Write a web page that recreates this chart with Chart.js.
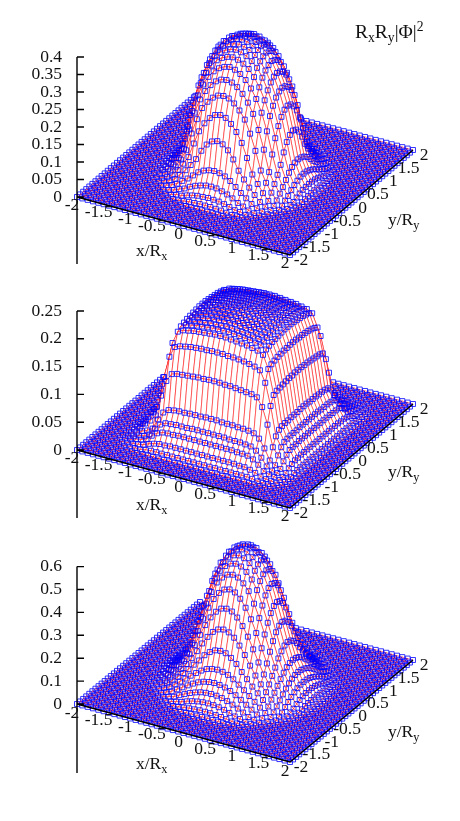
<!DOCTYPE html>
<html>
<head>
<meta charset="utf-8">
<title>RxRy|Phi|^2</title>
<script src="https://cdn.jsdelivr.net/npm/chart.js@4"></script>
<style>
  html, body { margin: 0; padding: 0; background: #fff; }
  #page { position: relative; width: 460px; height: 821px; overflow: hidden; }
  canvas { position: absolute; left: 0; }
</style>
</head>
<body>
<div id="page">
  <canvas id="top" width="460" height="280" style="top:0"></canvas>
  <canvas id="middle" width="460" height="255" style="top:280px"></canvas>
  <canvas id="bottom" width="460" height="286" style="top:535px"></canvas>
</div>
<script>
const gridX = [-2,-1.9,-1.8,-1.7,-1.6,-1.5,-1.4,-1.3,-1.2,-1.1,-1,-0.9,-0.8,-0.7,-0.6,-0.5,-0.4,-0.3,-0.2,-0.1,0,
  0.1,0.2,0.3,0.4,0.5,0.6,0.7,0.8,0.9,1,1.1,1.2,1.3,1.4,1.5,1.6,1.7,1.8,1.9,2];
const gridY = [-2,-1.9,-1.8,-1.7,-1.6,-1.5,-1.4,-1.3,-1.2,-1.1,-1,-0.9,-0.8,-0.7,-0.6,-0.5,-0.4,-0.3,-0.2,-0.1,0,
  0.1,0.2,0.3,0.4,0.5,0.6,0.7,0.8,0.9,1,1.1,1.2,1.3,1.4,1.5,1.6,1.7,1.8,1.9,2];

const xTicks = [-2,-1.5,-1,-0.5,0,0.5,1,1.5,2];
const yTicks = [-2,-1.5,-1,-0.5,0,0.5,1,1.5,2];
const zTicksTop = [0,0.05,0.1,0.15,0.2,0.25,0.3,0.35,0.4];
const zTicksMiddle = [0,0.05,0.1,0.15,0.2,0.25];
const zTicksBottom = [0,0.1,0.2,0.3,0.4,0.5,0.6];

// for 0 <= x,y <= 1.5 in steps of 0.1, the surface mirrors
// around both axes and is flat zero further out
const zTop = [
  [.392,.390,.384,.376,.362,.342,.312,.274,.227,.160,.082,.045,.020,.006,0,0],
  [.390,.388,.381,.373,.359,.338,.309,.271,.223,.155,.080,.044,.019,.006,0,0],
  [.384,.381,.376,.366,.352,.330,.300,.261,.210,.142,.075,.040,.018,.005,0,0],
  [.376,.373,.366,.356,.341,.317,.285,.245,.191,.120,.066,.035,.015,.004,0,0],
  [.362,.359,.352,.341,.322,.297,.264,.223,.164,.092,.053,.028,.011,.002,0,0],
  [.342,.338,.330,.317,.297,.271,.236,.187,.125,.071,.040,.019,.006,0,0,0],
  [.312,.309,.300,.285,.264,.236,.194,.142,.082,.052,.029,.013,.005,0,0,0],
  [.274,.271,.261,.245,.223,.187,.142,.090,.059,.035,.017,.006,.001,0,0,0],
  [.227,.223,.210,.191,.164,.125,.082,.059,.037,.019,.009,.002,0,0,0,0],
  [.160,.155,.142,.120,.092,.071,.052,.035,.019,.010,.004,0,0,0,0,0],
  [.082,.080,.075,.066,.053,.040,.029,.017,.009,.004,0,0,0,0,0,0],
  [.045,.044,.040,.035,.028,.019,.013,.006,.002,0,0,0,0,0,0,0],
  [.020,.019,.018,.015,.011,.006,.005,.001,0,0,0,0,0,0,0,0],
  [.006,.006,.005,.004,.002,0,0,0,0,0,0,0,0,0,0,0],
  [0,0,0,0,0,0,0,0,0,0,0,0,0,0,0,0],
  [0,0,0,0,0,0,0,0,0,0,0,0,0,0,0,0]
];
const zMiddle = [
  [.215,.215,.214,.213,.212,.211,.209,.206,.201,.176,.129,.066,.045,.032,.015,.004],
  [.215,.215,.214,.213,.212,.211,.208,.206,.201,.176,.129,.066,.045,.032,.015,.004],
  [.214,.214,.213,.212,.211,.210,.207,.205,.200,.175,.128,.065,.045,.032,.015,.004],
  [.213,.213,.212,.211,.210,.209,.207,.204,.199,.175,.128,.065,.045,.032,.015,.004],
  [.212,.212,.211,.210,.209,.208,.205,.203,.198,.174,.127,.065,.044,.032,.015,.004],
  [.211,.211,.210,.209,.208,.206,.204,.202,.197,.173,.126,.064,.044,.032,.015,.004],
  [.209,.208,.207,.207,.205,.204,.202,.200,.195,.171,.125,.064,.044,.031,.015,.004],
  [.206,.206,.205,.204,.203,.202,.200,.198,.193,.169,.124,.063,.043,.031,.014,.004],
  [.201,.201,.200,.199,.198,.197,.195,.193,.188,.165,.121,.061,.042,.030,.014,.004],
  [.176,.176,.175,.175,.174,.173,.171,.169,.165,.145,.106,.054,.037,.026,.012,.004],
  [.129,.129,.128,.128,.127,.126,.125,.124,.121,.106,.077,.039,.027,.019,.009,.003],
  [.066,.066,.065,.065,.065,.064,.064,.063,.061,.054,.039,.020,.014,.010,.005,.001],
  [.045,.045,.045,.045,.044,.044,.044,.043,.042,.037,.027,.014,.009,.007,.003,.001],
  [.032,.032,.032,.032,.032,.032,.031,.031,.030,.026,.019,.010,.007,.005,.002,.001],
  [.015,.015,.015,.015,.015,.015,.015,.014,.014,.012,.009,.005,.003,.002,.001,0],
  [.004,.004,.004,.004,.004,.004,.004,.004,.004,.004,.003,.001,.001,.001,0,0]
];
const zBottom = [
  [.595,.590,.575,.550,.513,.460,.387,.307,.225,.154,.107,.070,.040,.015,.003,0],
  [.590,.584,.569,.544,.507,.453,.381,.301,.221,.151,.105,.069,.039,.015,.003,0],
  [.575,.569,.554,.527,.488,.432,.361,.284,.207,.144,.100,.065,.036,.013,.003,0],
  [.550,.544,.527,.500,.460,.399,.330,.256,.187,.131,.091,.058,.031,.011,.002,0],
  [.513,.507,.488,.460,.412,.355,.290,.221,.158,.114,.079,.049,.024,.008,.001,0],
  [.460,.453,.432,.399,.355,.301,.241,.181,.133,.096,.065,.038,.015,.004,0,0],
  [.387,.381,.361,.330,.290,.241,.190,.144,.107,.077,.050,.027,.010,.002,0,0],
  [.307,.301,.284,.256,.221,.181,.144,.112,.084,.058,.035,.014,.004,.001,0,0],
  [.225,.221,.207,.187,.158,.133,.107,.084,.061,.039,.020,.008,.002,0,0,0],
  [.154,.151,.144,.131,.114,.096,.077,.058,.039,.022,.010,.002,0,0,0,0],
  [.107,.105,.100,.091,.079,.065,.050,.035,.020,.010,.002,0,0,0,0,0],
  [.070,.069,.065,.058,.049,.038,.027,.014,.008,.002,0,0,0,0,0,0],
  [.040,.039,.036,.031,.024,.015,.010,.004,.002,0,0,0,0,0,0,0],
  [.015,.015,.013,.011,.008,.004,.002,.001,0,0,0,0,0,0,0,0],
  [.003,.003,.003,.002,.001,0,0,0,0,0,0,0,0,0,0,0],
  [0,0,0,0,0,0,0,0,0,0,0,0,0,0,0,0]
];

// view of the box, in pixels per unit
const axisLeft = 77;
const pxPerX = 53.25;
const yShiftPerY = 30.75;
const xDropPerX = 14.5;
const font = '"Liberation Serif", "Times New Roman", serif';
const fontSize = 17.5;

const panels = [
  { id: "top", table: zTop, zTicks: zTicksTop, height: 280, baseY: 197, pxPerZ: 350, yRise: 26.25,
    axisDrop: 67, xLabelDrop: 8, xTitleDrop: 59, yTitleDrop: 28, title: true },
  { id: "middle", table: zMiddle, zTicks: zTicksMiddle, height: 255, baseY: 170, pxPerZ: 556, yRise: 26,
    axisDrop: 68, xLabelDrop: 8, xTitleDrop: 60, yTitleDrop: 27 },
  { id: "bottom", table: zBottom, zTicks: zTicksBottom, height: 286, baseY: 169, pxPerZ: 229, yRise: 25.5,
    axisDrop: 69, xLabelDrop: 9, xTitleDrop: 65, yTitleDrop: 33 }
];

function zAt(table, ix, iy) {
  const i = Math.abs(ix - 20);
  const j = Math.abs(iy - 20);
  return i < 16 && j < 16 ? table[i][j] : 0;
}

// scale values of a surface point: x scale holds the sheared x, y scale holds z plus the floor tilt
function project(panel, x, y, z) {
  return {
    x: x + (y + 2) * yShiftPerY / pxPerX,
    y: z + ((y + 2) * panel.yRise - (x + 2) * xDropPerX) / panel.pxPerZ
  };
}

function insideQuad(p, quad) {
  let sign = 0;
  for (let k = 0; k < 4; k++) {
    const a = quad[k];
    const b = quad[(k + 1) % 4];
    const cross = (b.x - a.x) * (p.y - a.y) - (b.y - a.y) * (p.x - a.x);
    if (cross !== 0) {
      if (sign !== 0 && Math.sign(cross) !== sign) return false;
      sign = Math.sign(cross);
    }
  }
  return true;
}

function buildDatasets(panel) {
  const pts = gridX.map((x, ix) => gridY.map((y, iy) => project(panel, x, y, zAt(panel.table, ix, iy))));

  // front corner first: chart.js paints the first dataset last
  const cells = [];
  for (let iy = 0; iy < gridY.length - 1; iy++) {
    for (let ix = gridX.length - 2; ix >= 0; ix--) {
      const quad = [pts[ix][iy], pts[ix + 1][iy], pts[ix + 1][iy + 1], pts[ix][iy + 1]];
      const raised = zAt(panel.table, ix, iy) > 0 || zAt(panel.table, ix + 1, iy) > 0 ||
        zAt(panel.table, ix + 1, iy + 1) > 0 || zAt(panel.table, ix, iy + 1) > 0;
      cells.push({ ix, iy, quad, raised });
    }
  }

  // a marker stays only if no raised cell nearer the viewer covers it
  const raisedCells = cells.filter(c => c.raised);
  raisedCells.forEach(c => {
    c.minX = Math.min(...c.quad.map(q => q.x));
    c.maxX = Math.max(...c.quad.map(q => q.x));
    c.minY = Math.min(...c.quad.map(q => q.y));
    c.maxY = Math.max(...c.quad.map(q => q.y));
  });
  const markers = [];
  gridX.forEach((x, ix) => {
    gridY.forEach((y, iy) => {
      const p = pts[ix][iy];
      const hidden = raisedCells.some(c =>
        c.iy < iy && p.x >= c.minX && p.x <= c.maxX && p.y >= c.minY && p.y <= c.maxY &&
        !(c.iy === iy - 1 && (c.ix === ix || c.ix === ix - 1)) && insideQuad(p, c.quad));
      if (!hidden) markers.push(p);
    });
  });

  const datasets = [{
    data: markers,
    showLine: false,
    pointStyle: "rect",
    pointRadius: 3.5,
    pointBorderWidth: 1,
    pointBorderColor: "rgba(0,0,255,0.8)",
    pointBackgroundColor: "rgba(0,0,0,0)",
    clip: false
  }];
  cells.forEach(c => {
    datasets.push({
      data: c.quad.concat([c.quad[0]]),
      showLine: true,
      pointRadius: 0,
      borderColor: "rgba(255,0,0,0.65)",
      borderWidth: 0.8,
      backgroundColor: "#fff",
      fill: c.raised ? "shape" : false,
      tension: 0,
      clip: false
    });
  });
  return datasets;
}

// text pieces with sub and superscripts, left to right from one baseline
function drawRuns(ctx, runs, x, y, size) {
  ctx.textAlign = "left";
  ctx.textBaseline = "alphabetic";
  runs.forEach(r => {
    ctx.font = (r.shift ? size * 0.7 : size) + "px " + font;
    ctx.fillText(r.text, x, y + (r.shift || 0));
    x += ctx.measureText(r.text).width;
  });
}

function framePlugin(panel) {
  return {
    id: "frame",
    afterDraw(chart) {
      const ctx = chart.ctx;
      const sx = chart.scales.x;
      const sy = chart.scales.y;
      const px = p => ({ x: sx.getPixelForValue(p.x), y: sy.getPixelForValue(p.y) });
      const zero = sy.getPixelForValue(0);
      const topTick = panel.zTicks[panel.zTicks.length - 1];

      ctx.save();
      ctx.strokeStyle = "#000";
      ctx.fillStyle = "#111";
      ctx.lineWidth = 1.4;

      // z axis with inward tics, running below the floor
      ctx.beginPath();
      ctx.moveTo(axisLeft, sy.getPixelForValue(topTick));
      ctx.lineTo(axisLeft, zero + panel.axisDrop);
      panel.zTicks.forEach(v => {
        const t = sy.getPixelForValue(v);
        ctx.moveTo(axisLeft, t);
        ctx.lineTo(axisLeft + 7, t);
      });
      // the two front edges of the floor
      const a = px(project(panel, -2, -2, 0));
      const b = px(project(panel, 2, -2, 0));
      const c = px(project(panel, 2, 2, 0));
      ctx.moveTo(a.x, a.y);
      ctx.lineTo(b.x, b.y);
      ctx.lineTo(c.x, c.y);
      ctx.stroke();

      ctx.font = fontSize + "px " + font;
      ctx.textAlign = "center";
      ctx.textBaseline = "middle";
      xTicks.forEach(v => {
        const p = px(project(panel, v, -2, 0));
        ctx.fillText(String(v), p.x - 5, p.y + panel.xLabelDrop);
      });
      yTicks.forEach(v => {
        const p = px(project(panel, 2, v, 0));
        ctx.fillText(String(v), p.x + 11, p.y + 5.5);
      });

      drawRuns(ctx, [{ text: "x/R" }, { text: "x", shift: 4 }], 136, zero + panel.xTitleDrop, fontSize);
      drawRuns(ctx, [{ text: "y/R" }, { text: "y", shift: 4 }], 388, zero + panel.yTitleDrop, fontSize);
      if (panel.title) {
        drawRuns(ctx, [{ text: "R" }, { text: "x", shift: 4 }, { text: "R" }, { text: "y", shift: 4 },
          { text: "|\u03A6|" }, { text: "2", shift: -7 }], 355, 38, 19.5);
      }
      ctx.restore();
    }
  };
}

function renderPanel(panel) {
  new Chart(document.getElementById(panel.id), {
    type: "scatter",
    data: { datasets: buildDatasets(panel) },
    plugins: [framePlugin(panel)],
    options: {
      responsive: false,
      animation: false,
      events: [],
      normalized: true,
      layout: { autoPadding: false, padding: 0 },
      plugins: { legend: { display: false }, tooltip: { enabled: false } },
      scales: {
        x: {
          type: "linear",
          display: false,
          min: -2,
          max: -2 + (460 - axisLeft) / pxPerX
        },
        y: {
          type: "linear",
          position: "left",
          min: -(panel.height - panel.baseY) / panel.pxPerZ,
          max: panel.baseY / panel.pxPerZ,
          grid: { display: false, drawTicks: false },
          border: { display: false },
          afterBuildTicks: s => { s.ticks = panel.zTicks.map(v => ({ value: v })); },
          // tick labels must not shrink the plot, the z axis is pinned to the floor corner
          afterFit: s => { s.width = axisLeft; s.paddingTop = 0; s.paddingBottom = 0; },
          ticks: {
            autoSkip: false,
            maxRotation: 0,
            padding: 15,
            color: "#111",
            font: { family: font, size: fontSize },
            callback: v => String(v)
          }
        }
      }
    }
  });
}

panels.forEach(renderPanel);
</script>
</body>
</html>
